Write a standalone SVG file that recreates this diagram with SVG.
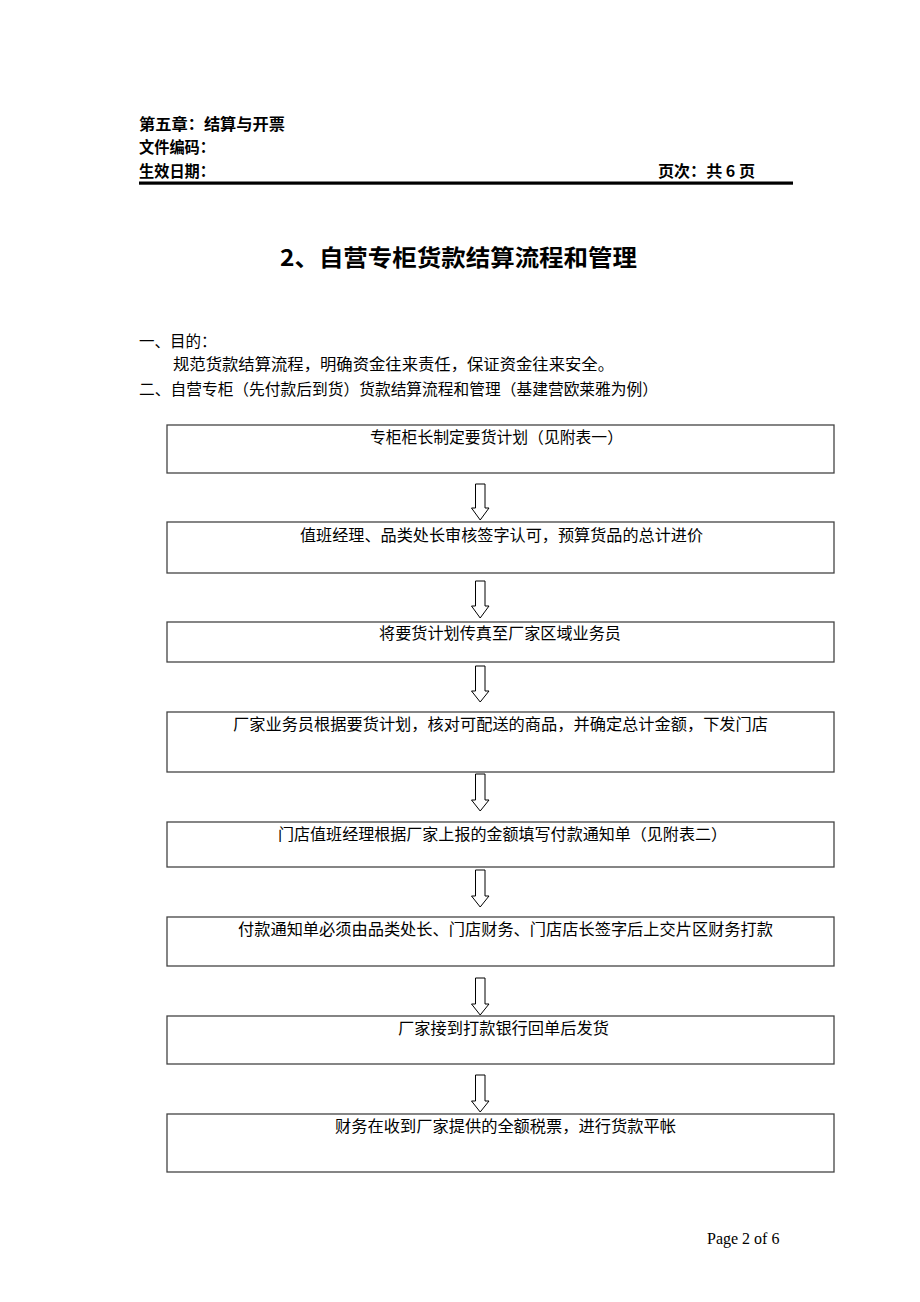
<svg xmlns="http://www.w3.org/2000/svg" width="920" height="1302" viewBox="0 0 920 1302">
<defs>
<style>
text{font-family:"Noto Sans CJK SC","Liberation Sans",sans-serif;fill:#000;}
.hd{font-size:15.5px;font-weight:bold;}
.ti{font-size:23px;font-weight:bold;}
.bd{font-size:15.5px;}
.bx{font-size:15.7px;text-anchor:middle;}
.box{fill:#fff;stroke:#444;stroke-width:1.3;}
.arr{fill:#fff;stroke:#000;stroke-width:1;}
.pg{font-family:"Liberation Serif",serif;font-size:16px;}
</style>
</defs>
<rect width="920" height="1302" fill="#fff"/>
<g id="header">
<text class="hd" x="139" y="130" textLength="146" lengthAdjust="spacingAndGlyphs">第五章：结算与开票</text>
<text class="hd" x="139" y="153" textLength="76" lengthAdjust="spacingAndGlyphs">文件编码：</text>
<text class="hd" x="139" y="177" textLength="76" lengthAdjust="spacingAndGlyphs">生效日期：</text>
<text class="hd" x="658" y="177" textLength="97" lengthAdjust="spacingAndGlyphs">页次：共 6 页</text>
<rect x="139" y="181.5" width="654" height="3.2" fill="#000"/>
</g>
<g id="title">
<text class="ti" x="280" y="266" textLength="357" lengthAdjust="spacingAndGlyphs">2、自营专柜货款结算流程和管理</text>
</g>
<g id="intro">
<text class="bd" x="139" y="347">一、目的：</text>
<text class="bd" x="173" y="370" textLength="441" lengthAdjust="spacingAndGlyphs">规范货款结算流程，明确资金往来责任，保证资金往来安全。</text>
<text class="bd" x="139" y="395" textLength="519" lengthAdjust="spacingAndGlyphs">二、自营专柜（先付款后到货）货款结算流程和管理（基建营欧莱雅为例）</text>
</g>
<g id="connectors">
<path class="arr" d="M475.5,484 H485 V508 H489 L480.2,520 L471.5,508 H475.5 Z"/>
<path class="arr" d="M475.5,581 H485 V606 H489 L480.2,618 L471.5,606 H475.5 Z"/>
<path class="arr" d="M475.5,666 H485 V691 H489 L480.2,702 L471.5,691 H475.5 Z"/>
<path class="arr" d="M475.5,774 H485 V800 H489 L480.2,811 L471.5,800 H475.5 Z"/>
<path class="arr" d="M475.5,870 H485 V896 H489 L480.2,907 L471.5,896 H475.5 Z"/>
<path class="arr" d="M475.5,978 H485 V1004 H489 L480.2,1015 L471.5,1004 H475.5 Z"/>
<path class="arr" d="M475.5,1075 H485 V1101 H489 L480.2,1112 L471.5,1101 H475.5 Z"/>
</g>
<g id="node1">
<rect class="box" x="167" y="425" width="667" height="48"/>
<text class="bx" x="496.5" y="443" textLength="253" lengthAdjust="spacingAndGlyphs">专柜柜长制定要货计划（见附表一）</text>
</g>
<g id="node2">
<rect class="box" x="167" y="522" width="667" height="51"/>
<text class="bx" x="501.5" y="541" textLength="403" lengthAdjust="spacingAndGlyphs">值班经理、品类处长审核签字认可，预算货品的总计进价</text>
</g>
<g id="node3">
<rect class="box" x="167" y="622" width="667" height="40"/>
<text class="bx" x="500" y="639" textLength="242" lengthAdjust="spacingAndGlyphs">将要货计划传真至厂家区域业务员</text>
</g>
<g id="node4">
<rect class="box" x="167" y="712" width="667" height="60"/>
<text class="bx" x="500.5" y="730" textLength="535" lengthAdjust="spacingAndGlyphs">厂家业务员根据要货计划，核对可配送的商品，并确定总计金额，下发门店</text>
</g>
<g id="node5">
<rect class="box" x="167" y="822" width="667" height="45"/>
<text class="bx" x="502.5" y="840" textLength="449" lengthAdjust="spacingAndGlyphs">门店值班经理根据厂家上报的金额填写付款通知单（见附表二）</text>
</g>
<g id="node6">
<rect class="box" x="167" y="917" width="667" height="49"/>
<text class="bx" x="505.5" y="935" textLength="535" lengthAdjust="spacingAndGlyphs">付款通知单必须由品类处长、门店财务、门店店长签字后上交片区财务打款</text>
</g>
<g id="node7">
<rect class="box" x="167" y="1016" width="667" height="48"/>
<text class="bx" x="503.5" y="1034" textLength="211" lengthAdjust="spacingAndGlyphs">厂家接到打款银行回单后发货</text>
</g>
<g id="node8">
<rect class="box" x="167" y="1114" width="667" height="58"/>
<text class="bx" x="505.5" y="1132" textLength="341" lengthAdjust="spacingAndGlyphs">财务在收到厂家提供的全额税票，进行货款平帐</text>
</g>
<g id="footer">
<text class="pg" x="707" y="1244">Page 2 of 6</text>
</g>
</svg>
